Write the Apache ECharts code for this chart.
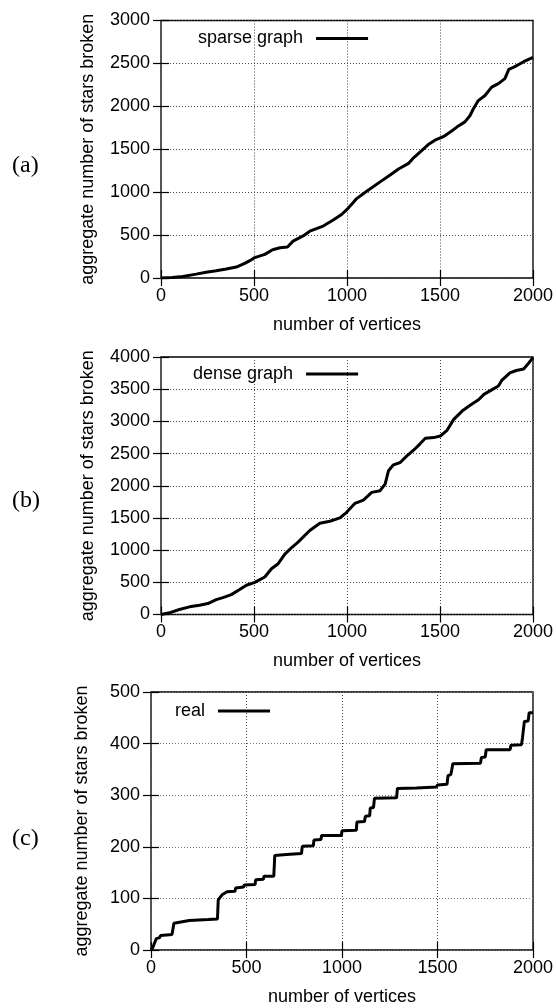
<!DOCTYPE html>
<html>
<head>
<meta charset="utf-8">
<script src="https://cdn.jsdelivr.net/npm/echarts@6/dist/echarts.min.js"></script>
<style>
html, body { margin: 0; padding: 0; background: #fff; }
#main { width: 556px; height: 1008px; }
</style>
</head>
<body>
<div id="main"></div>
<script>
// (a) sparse graph
var sparseX = [0, 60, 117, 189, 243, 297, 351, 405, 450, 480, 504, 558, 600, 640, 680, 710, 764, 800, 872, 926,
    971, 1007, 1030, 1052, 1106, 1178, 1232, 1277, 1331, 1358, 1394, 1437, 1473, 1518, 1563, 1599, 1634, 1661,
    1679, 1706, 1742, 1778, 1814, 1849, 1870, 1900, 1950, 2000];
var sparseY = [0, 5, 18, 45, 68, 85, 105, 128, 170, 205, 238, 275, 330, 352, 362, 430, 490, 545, 605, 675,
    740, 815, 870, 925, 1010, 1120, 1200, 1270, 1335, 1400, 1470, 1555, 1606, 1646, 1713, 1772, 1819, 1890,
    1969, 2067, 2126, 2224, 2264, 2323, 2430, 2460, 2520, 2570];

// (b) dense graph
var denseX = [0, 45, 99, 153, 207, 252, 297, 333, 378, 423, 459, 504, 558, 594, 630, 665, 701, 737, 764, 800,
    854, 908, 962, 998, 1043, 1088, 1133, 1178, 1205, 1223, 1250, 1286, 1322, 1358, 1394, 1421, 1466, 1502,
    1538, 1574, 1619, 1664, 1709, 1736, 1778, 1814, 1832, 1876, 1910, 1950, 1975, 2000];
var denseY = [0, 26, 77, 119, 144, 170, 232, 263, 309, 387, 454, 500, 582, 711, 789, 933, 1036, 1124, 1201, 1304,
    1418, 1448, 1500, 1588, 1727, 1778, 1897, 1923, 2026, 2232, 2325, 2361, 2464, 2552, 2655, 2737, 2748, 2773,
    2861, 3031, 3160, 3253, 3340, 3420, 3490, 3549, 3636, 3754, 3790, 3815, 3900, 3990];

// (c) real
var realX = [0, 10, 17, 28, 45, 50, 60, 110, 120, 125, 200, 300, 348, 352, 372, 398, 440, 443, 485, 488,
    545, 548, 588, 592, 643, 648, 710, 788, 792, 850, 853, 890, 893, 997, 1000, 1075, 1078, 1118, 1122, 1145,
    1148, 1165, 1170, 1286, 1290, 1390, 1495, 1500, 1550, 1555, 1570, 1575, 1580, 1725, 1730, 1750, 1755,
    1880, 1885, 1940, 1945, 1955, 1975, 1980, 2000];
var realY = [0, 5, 12, 22, 24, 28, 30, 30, 52, 55, 57, 59, 60, 97, 107, 113, 114, 120, 122, 126,
    127, 136, 137, 143, 143, 183, 185, 187, 201, 202, 213, 214, 222, 222, 231, 232, 248, 249, 259, 260,
    275, 276, 294, 295, 313, 314, 316, 320, 321, 338, 340, 350, 361, 362, 373, 374, 388,
    388, 397, 398, 411, 443, 444, 460, 460];

var seriesNames = ['sparse graph', 'dense graph', 'real'];
var panelTags = ['(a)', '(b)', '(c)'];
var yMax = [3000, 4000, 500];
var yStep = [500, 500, 100];

var FONT = 'Liberation Sans, Arial, sans-serif';

function pairs(xs, ys) {
    var out = [];
    for (var i = 0; i < xs.length; i++) out.push([xs[i], ys[i]]);
    return out;
}

var grids = [
    {left: 161, right: 23, top: 20.5, height: 257.5},
    {left: 161, right: 23, top: 357, height: 257.5},
    {left: 151, right: 23, top: 692, height: 258}
];
var yNameGap = [64, 64, 60];
var legendPos = [[198, 28.5], [193, 364], [175, 701]];
var tagY = [167, 502, 840];

var tick = {inside: true, length: 8, lineStyle: {color: '#000', width: 1.2}};
var plainLabel = function (v) { return String(v); };

var xAxes = [], yAxes = [], series = [], legends = [], graphics = [];
var allData = [pairs(sparseX, sparseY), pairs(denseX, denseY), pairs(realX, realY)];

for (var i = 0; i < 3; i++) {
    grids[i].show = true;
    grids[i].borderColor = '#000';
    grids[i].borderWidth = 1.3;

    xAxes.push({
        type: 'value', gridIndex: i, min: 0, max: 2000, interval: 500, position: 'bottom',
        name: 'number of vertices', nameLocation: 'middle', nameGap: 38,
        nameTextStyle: {fontSize: 18, color: '#000', fontFamily: FONT},
        axisLine: {show: false},
        axisTick: tick,
        axisLabel: {margin: 9, fontSize: 18, color: '#000', fontFamily: FONT, formatter: plainLabel},
        splitLine: {show: true, lineStyle: {color: '#444', type: [1, 2], width: 1}}
    });
    xAxes.push({
        type: 'value', gridIndex: i, min: 0, max: 2000, interval: 500, position: 'top',
        axisLine: {show: false}, axisTick: tick, axisLabel: {show: false}, splitLine: {show: false}
    });

    yAxes.push({
        type: 'value', gridIndex: i, min: 0, max: yMax[i], interval: yStep[i], position: 'left',
        name: 'aggregate number of stars broken', nameLocation: 'middle', nameGap: yNameGap[i],
        nameTextStyle: {fontSize: 18, color: '#000', fontFamily: FONT},
        axisLine: {show: false},
        axisTick: tick,
        axisLabel: {margin: 11, fontSize: 18, color: '#000', fontFamily: FONT, formatter: plainLabel},
        splitLine: {show: true, lineStyle: {color: i === 2 ? '#777' : '#444', type: [1, 2], width: 1}}
    });
    yAxes.push({
        type: 'value', gridIndex: i, min: 0, max: yMax[i], interval: yStep[i], position: 'right',
        axisLine: {show: false}, axisTick: tick, axisLabel: {show: false}, splitLine: {show: false}
    });

    series.push({
        name: seriesNames[i],
        type: 'line',
        xAxisIndex: 2 * i,
        yAxisIndex: 2 * i,
        data: allData[i],
        showSymbol: false,
        color: '#000',
        lineStyle: {color: '#000', width: 3}
    });

    legends.push({
        data: [seriesNames[i]],
        left: legendPos[i][0], top: legendPos[i][1],
        align: 'right', padding: 0,
        icon: 'rect', itemWidth: 52, itemHeight: 3,
        textStyle: {fontSize: 18, color: '#000', fontFamily: FONT, lineHeight: 20, padding: [0, 8, 0, 0]}
    });

    graphics.push({
        type: 'text', left: 12, top: tagY[i] - 13,
        style: {text: panelTags[i], font: '24px "Liberation Serif", serif', fill: '#000'}
    });
}

var chart = echarts.init(document.getElementById('main'));
chart.setOption({
    animation: false,
    backgroundColor: '#fff',
    grid: grids,
    xAxis: xAxes,
    yAxis: yAxes,
    legend: legends,
    graphic: graphics,
    series: series
});
</script>
</body>
</html>
